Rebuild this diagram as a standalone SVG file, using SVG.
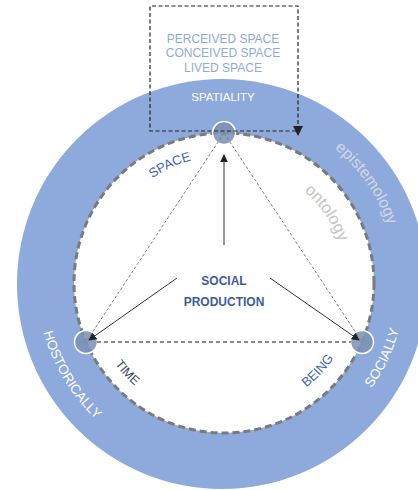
<svg xmlns="http://www.w3.org/2000/svg" width="418" height="490" viewBox="0 0 418 490">
<style>
text{font-family:"Liberation Sans",Arial,sans-serif}
.ring{fill:#8eaadc}
.inner{fill:#fff;stroke:#7a7a7a;stroke-width:3;stroke-dasharray:7 4}
.node{fill:#7b92b5;fill-opacity:0.88;stroke:#fff;stroke-width:1.5}
.tri{fill:none;stroke:#808080;stroke-width:1;stroke-dasharray:3 2}
.base{fill:none;stroke:#8a8a8a;stroke-width:1.8;stroke-dasharray:4 3}
.arr{fill:none;stroke:#333;stroke-width:1;marker-end:url(#ah)}
.box{fill:none;stroke:#222;stroke-width:1.2;stroke-dasharray:4 2.5}
.lt{fill:#8eaadc;font-size:12px;text-anchor:middle}
.ctr{fill:#3e5b9a;font-size:12px;font-weight:bold;text-anchor:middle}
</style>
<defs>
<marker id="ah" viewBox="0 0 10 10" refX="9" refY="5" markerWidth="8" markerHeight="8" orient="auto" markerUnits="userSpaceOnUse"><path d="M0,0L10,5L0,10z" fill="#222"/></marker>
<marker id="ah2" viewBox="0 0 10 10" refX="5" refY="5" markerWidth="10" markerHeight="10" orient="auto" markerUnits="userSpaceOnUse"><path d="M0,0L10,5L0,10z" fill="#222"/></marker>
<path id="pEpi" d="M297.5,125.3 A174,174 0 0 1 397.3,267.8"/>
<path id="pOnt" d="M276.9,173.1 A122,122 0 0 1 345.7,273.9"/>
<path id="pSpace" d="M120.4,209.6 A127,127 0 0 1 235.7,156.5"/>
<path id="pHist" d="M37,286.6 A187,187 0 0 0 133.6,446.7"/>
<path id="pSoc" d="M339.9,422.1 A181,181 0 0 0 405,283.6"/>
<path id="pTime" d="M94.5,324.6 A136,136 0 0 0 172.6,408.9"/>
<path id="pBeing" d="M273.6,406.4 A133,133 0 0 0 350.4,324.3"/>
</defs>
<g id="outer-ring"><circle class="ring" cx="222" cy="284" r="205"/></g>
<g id="inner-circle"><circle class="inner" cx="224" cy="283" r="150"/></g>
<g id="ring-labels">
<text font-size="16" fill="#d3d8e3" text-anchor="middle"><textPath href="#pEpi" startOffset="50%">epistemology</textPath></text>
<text font-size="16.5" fill="#c4c4c4" text-anchor="middle"><textPath href="#pOnt" startOffset="50%">ontology</textPath></text>
<text font-size="13.5" fill="#fff" text-anchor="middle"><textPath href="#pHist" startOffset="50%">HOSTORICALLY</textPath></text>
<text font-size="13.5" fill="#fff" text-anchor="middle"><textPath href="#pSoc" startOffset="50%">SOCIALLY</textPath></text>
<text font-size="13" fill="#3f66b0" text-anchor="middle"><textPath href="#pSpace" startOffset="50%">SPACE</textPath></text>
<text font-size="12.5" fill="#3a4868" text-anchor="middle"><textPath href="#pTime" startOffset="50%">TIME</textPath></text>
<text font-size="13" fill="#3f66b0" text-anchor="middle"><textPath href="#pBeing" startOffset="50%">BEING</textPath></text>
</g>
<g id="spatiality-box">
<text class="lt" x="223" y="43">PERCEIVED SPACE</text>
<text class="lt" x="223" y="57">CONCEIVED SPACE</text>
<text class="lt" x="223" y="72">LIVED SPACE</text>
<text x="223" y="101" fill="#fff" font-size="11.5" text-anchor="middle">SPATIALITY</text>
</g>
<g id="node-space"><circle class="node" cx="224" cy="133" r="11.5"/></g>
<g id="node-time"><circle class="node" cx="86" cy="342" r="11.5"/></g>
<g id="node-being"><circle class="node" cx="362" cy="342" r="11.5"/></g>
<g id="social-production">
<text class="ctr" x="224" y="285">SOCIAL</text>
<text class="ctr" x="224" y="306">PRODUCTION</text>
</g>
<g id="connectors">
<line class="tri" x1="224" y1="133" x2="86" y2="342"/>
<line class="tri" x1="224" y1="133" x2="362" y2="342"/>
<line class="base" x1="97" y1="342" x2="351" y2="342"/>
<line class="arr" x1="224" y1="245" x2="224" y2="155"/>
<line class="arr" x1="177" y1="278" x2="89" y2="340"/>
<line class="arr" x1="270" y1="278" x2="359" y2="340"/>
<path class="box" d="M296,131 L150,131 L150,6 L298,6 L298,131" marker-end="url(#ah2)"/>
</g>
</svg>
